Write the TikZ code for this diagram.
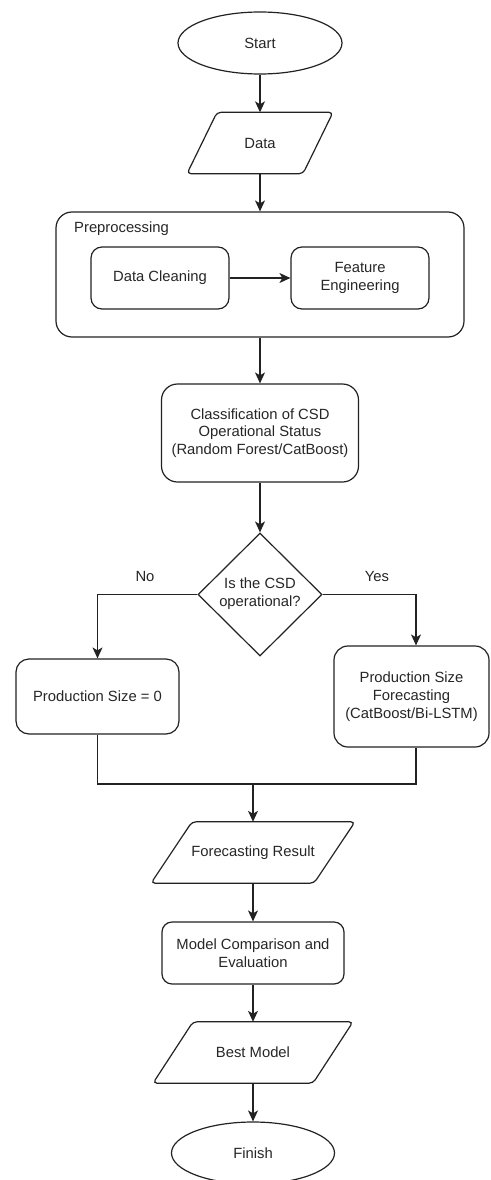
\documentclass[tikz,border=0pt]{standalone}
\usepackage{fontspec}
\setmainfont{Liberation Sans}
\usetikzlibrary{shapes.geometric,arrows.meta,calc}
\definecolor{ink}{HTML}{222222}
\definecolor{txt}{HTML}{262626}
\begin{document}
\begin{tikzpicture}[x=1pt,y=-1pt,
  line/.style={draw=ink,line width=1.2pt},
  arr/.style={line,-{Stealth[length=11pt,width=10pt,inset=3pt]}},
  every node/.style={text=txt,font=\fontsize{14.8}{17.8}\selectfont,inner sep=0pt,align=center},
  term/.style={line,ellipse,minimum width=164pt,minimum height=62pt},
  proc/.style={line,rectangle,rounded corners=11pt},
  iobox/.style={rectangle,minimum height=61pt},
  decision/.style={line,diamond,minimum width=124pt,minimum height=123pt,aspect=1}]
\useasboundingbox (0,0) rectangle (490,1180);

% nodes
\node[term] (start) at (260,43) {Start};
\node[iobox,minimum width=146pt] (data) at (260,143) {Data};
\node[proc,minimum width=408pt,minimum height=125pt,rounded corners=16pt] (prep) at (260,274.5) {};
\node[anchor=west] (preplabel) at (74,229) {Preprocessing};
\node[proc,minimum width=138pt,minimum height=62pt] (clean) at (160,278) {Data Cleaning};
\node[proc,minimum width=138pt,minimum height=62pt] (feat) at (360,278) {Feature\\Engineering};
\node[proc,minimum width=197pt,minimum height=98pt,rounded corners=16pt] (class) at (260,433) {Classification of CSD\\Operational Status\\(Random Forest/CatBoost)};
\node[decision] (dec) at (260,594.5) {};
\node (dectext) at (260,594) {Is the CSD\\operational?};
\node (no) at (145,576) {No};
\node (yes) at (377,576) {Yes};
\node[proc,minimum width=163pt,minimum height=75pt,rounded corners=13pt] (zero) at (97.5,696.5) {Production Size = 0};
\node[proc,minimum width=155pt,minimum height=101pt,rounded corners=14pt] (fore) at (411.5,696.5) {Production Size\\Forecasting\\(CatBoost/Bi-LSTM)};
\coordinate (merge) at (253,784);
\node[iobox,minimum width=204pt] (res) at (253,852.5) {Forecasting Result};
\node[proc,minimum width=182pt,minimum height=62pt,rounded corners=10pt] (cmp) at (253,953) {Model Comparison and\\Evaluation};
\node[iobox,minimum width=200pt] (best) at (253,1052.5) {Best Model};
\node[term,minimum width=163pt] (fin) at (253,1153) {Finish};

% parallelogram outlines
\draw[line,rounded corners=4pt] ($(data.north)+(-43,0)$) -- ($(data.north)+(73,0)$) -- ($(data.south)+(43,0)$) -- ($(data.south)+(-73,0)$) -- cycle;
\draw[line,rounded corners=4pt] ($(res.north)+(-61,0)$) -- ($(res.north)+(102,0)$) -- ($(res.south)+(61,0)$) -- ($(res.south)+(-102,0)$) -- cycle;
\draw[line,rounded corners=4pt] ($(best.north)+(-60,0)$) -- ($(best.north)+(100,0)$) -- ($(best.south)+(60,0)$) -- ($(best.south)+(-100,0)$) -- cycle;

% connectors
\draw[arr] (start) -- (data);
\draw[arr] (data) -- (prep);
\draw[arr] (clean) -- (feat);
\draw[arr] (prep.south -| class.north) -- (class);
\draw[arr] (class) -- (dec);
\draw[arr] (dec.west) -| (zero.north);
\draw[arr] (dec.east) -| ($(fore.north)+(4.5,0)$);
\draw[line] (zero.south) |- (merge);
\draw[line] ($(fore.south)+(4.5,0)$) |- (merge);
\draw[arr] (merge) -- (res.north);
\draw[arr] (res.south) -- (cmp.north);
\draw[arr] (cmp.south) -- (best.north);
\draw[arr] (best.south) -- (fin.north);
\end{tikzpicture}
\end{document}
